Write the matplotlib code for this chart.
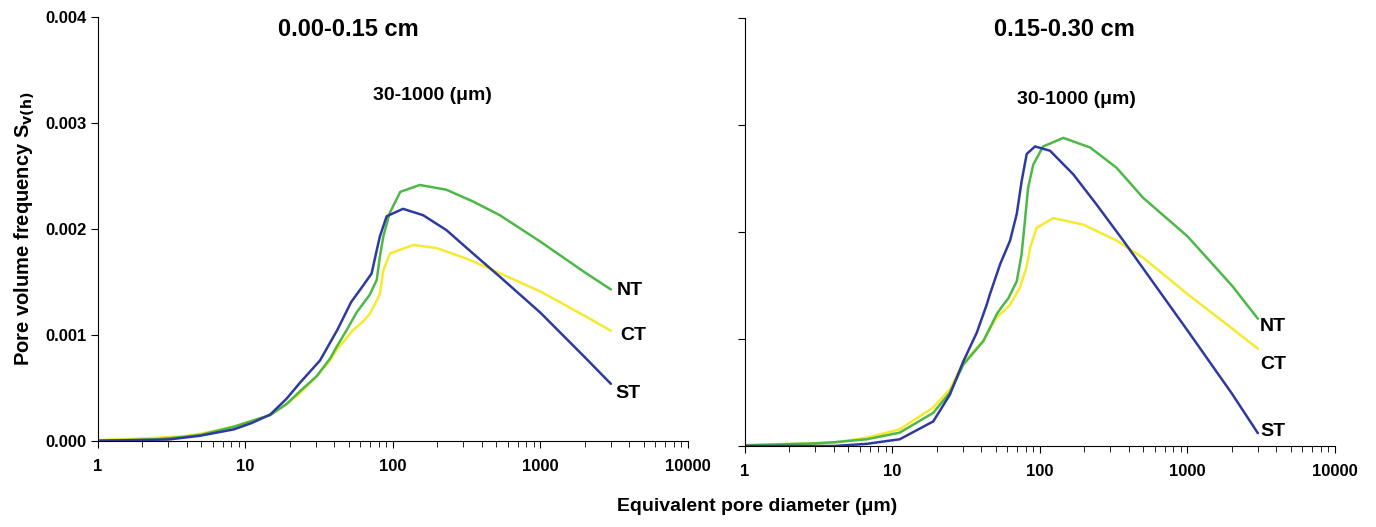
import numpy as np
import matplotlib.pyplot as plt

plt.rcParams['font.family'] = ['Liberation Sans', 'DejaVu Sans']
plt.rcParams['font.weight'] = 'bold'

# pore diameter (um) and pore volume frequency (x1000), 0.00-0.15 cm
d_top_nt = [1, 2.4, 3.8, 5, 8.3, 11, 14.7, 19, 23.4, 30.3, 37.5, 41.5, 48.7, 56.5, 63, 69.6, 77.6, 81.5, 86, 95, 112, 152, 230, 348, 530, 1000, 2000, 3000]
s_top_nt = [0.005, 0.015, 0.04, 0.06, 0.135, 0.19, 0.245, 0.35, 0.47, 0.61, 0.78, 0.89, 1.05, 1.21, 1.30, 1.38, 1.52, 1.74, 1.93, 2.15, 2.35, 2.415, 2.37, 2.26, 2.13, 1.88, 1.59, 1.43]

d_top_st = [1, 3, 4.9, 8.3, 11, 14.7, 19, 23.4, 32, 42, 52, 63, 71.6, 77.6, 81.5, 90.6, 117, 160, 230, 348, 530, 1000, 2000, 3000]
s_top_st = [0.003, 0.015, 0.05, 0.11, 0.17, 0.25, 0.40, 0.55, 0.76, 1.05, 1.31, 1.47, 1.58, 1.80, 1.93, 2.12, 2.19, 2.13, 1.99, 1.77, 1.55, 1.21, 0.79, 0.54]

d_top_ct = [1, 2, 3.8, 5, 8.3, 11, 14.7, 19, 23.4, 30.3, 37.5, 41.5, 54, 63, 69.6, 76, 81.5, 86, 95.5, 138, 198, 316, 480, 1000, 2000, 3000]
s_top_ct = [0.01, 0.025, 0.045, 0.07, 0.135, 0.19, 0.245, 0.35, 0.45, 0.61, 0.76, 0.86, 1.05, 1.13, 1.20, 1.30, 1.39, 1.61, 1.77, 1.85, 1.82, 1.72, 1.61, 1.41, 1.18, 1.04]

# 0.15-0.30 cm
d_bot_nt = [1, 3, 4, 6.7, 11.2, 18.9, 24.5, 30.2, 41.3, 50.8, 55, 61, 69.6, 75, 79, 83, 90, 105, 144, 219, 331, 500, 1000, 2000, 3000]
s_bot_nt = [0.005, 0.025, 0.035, 0.063, 0.125, 0.31, 0.50, 0.76, 0.98, 1.23, 1.30, 1.38, 1.54, 1.79, 2.10, 2.41, 2.63, 2.80, 2.88, 2.79, 2.60, 2.32, 1.96, 1.50, 1.19]

d_bot_st = [1, 4, 6.7, 8, 11.2, 18.9, 24.5, 30.2, 37.3, 43.5, 45.8, 53.7, 62.7, 69.6, 75.2, 81.3, 92.5, 117, 168, 241, 367, 557, 1000, 2000, 3000]
s_bot_st = [0.0, 0.0, 0.02, 0.035, 0.063, 0.23, 0.48, 0.79, 1.06, 1.32, 1.42, 1.70, 1.92, 2.17, 2.48, 2.73, 2.80, 2.76, 2.54, 2.26, 1.92, 1.57, 1.08, 0.49, 0.12]

d_bot_ct = [1, 4, 6.7, 11.2, 18.9, 24.5, 30.2, 41, 50.8, 62.7, 73, 81, 85.6, 95, 123, 196, 331, 500, 1000, 2000, 3000]
s_bot_ct = [0.01, 0.03, 0.078, 0.156, 0.36, 0.53, 0.78, 0.98, 1.20, 1.32, 1.48, 1.67, 1.85, 2.04, 2.13, 2.07, 1.92, 1.76, 1.42, 1.10, 0.91]

col_nt = '#4db848'
col_ct = '#f7ea2e'
col_st = '#2e3a9e'

fig = plt.figure(figsize=(13.76, 5.27), dpi=100)
ax1 = fig.add_axes([0.0712, 0.163, 0.4288, 0.805])
ax2 = fig.add_axes([0.5414, 0.1537, 0.4288, 0.812])

panels = [
    (ax1, "0.00-0.15 cm", [(d_top_ct, s_top_ct, col_ct), (d_top_nt, s_top_nt, col_nt), (d_top_st, s_top_st, col_st)],
     [("NT", 3300, 1.42), ("CT", 3480, 1.00), ("ST", 3240, 0.45)], (49.5, 3.88), (184, 3.26)),
    (ax2, "0.15-0.30 cm", [(d_bot_ct, s_bot_ct, col_ct), (d_bot_nt, s_bot_nt, col_nt), (d_bot_st, s_bot_st, col_st)],
     [("NT", 3100, 1.12), ("CT", 3100, 0.76), ("ST", 3100, 0.14)], (146, 3.89), (178, 3.24)),
]

for ax, title, series, labels, tpos, rpos in panels:
    for d, s, c in series:
        ax.plot(d, np.array(s) / 1000, color=c, lw=1.8, solid_capstyle='round', solid_joinstyle='round')
    ax.set_xscale('log')
    ax.set_xlim(1, 10000)
    ax.set_ylim(0, 0.004)
    ax.set_yticks([0, 0.001, 0.002, 0.003, 0.004])
    ax.set_xticks([1, 10, 100, 1000, 10000])
    ax.set_xticklabels(['1', '10', '100', '1000', '10000'])
    for sp in ['top', 'right']:
        ax.spines[sp].set_visible(False)
    ax.tick_params(axis='both', which='major', direction='out', length=5, labelsize=12)
    ax.tick_params(axis='x', which='minor', direction='out', length=4)
    ax.tick_params(axis='x', pad=8)
    for txt, x, y in labels:
        ax.text(x, y / 1000, txt, fontsize=14, fontweight='bold', ha='left', va='center')
    ax.text(tpos[0], tpos[1] / 1000, title, fontsize=17, fontweight='bold', ha='center', va='center')
    ax.text(rpos[0], rpos[1] / 1000, "30-1000 (\u03bcm)", fontsize=14, fontweight='bold', ha='center', va='center')

ax1.set_yticklabels(['0.000', '0.001', '0.002', '0.003', '0.004'])
ax2.set_yticklabels([])
ax1.set_ylabel("Pore volume frequency S$_{\\mathbf{v(h)}}$", fontsize=14.5, fontweight='bold', labelpad=6)

fig.text(0.55, 0.038, "Equivalent pore diameter (\u03bcm)", fontsize=14, fontweight='bold', ha='center', va='center')

fig.savefig("out.png", dpi=100)
